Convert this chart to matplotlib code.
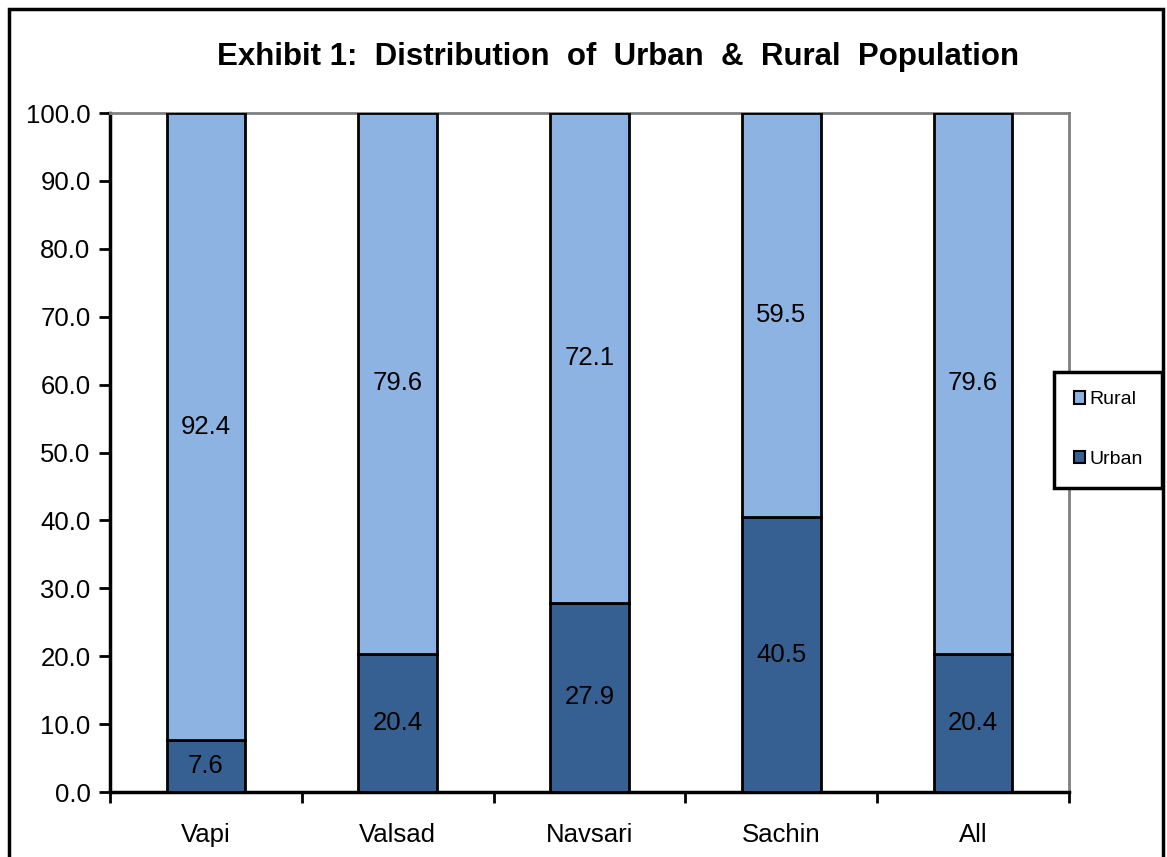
import matplotlib.pyplot as plt
from matplotlib.patches import Rectangle, Patch
import numpy as np

plt.rcParams['font.family'] = ['Liberation Sans', 'DejaVu Sans']

places = ['Vapi', 'Valsad', 'Navsari', 'Sachin', 'All']
urban = [7.6, 20.4, 27.9, 40.5, 20.4]
rural = [92.4, 79.6, 72.1, 59.5, 79.6]
yticks = [0, 10, 20, 30, 40, 50, 60, 70, 80, 90, 100]

ruralColor = '#8DB3E2'
urbanColor = '#366092'

fig = plt.figure(figsize=(11.67, 8.57), dpi=100)
ax = fig.add_axes([0.0943, 0.0758, 0.8217, 0.7923])

x = np.arange(len(places))
width = 0.41
ax.bar(x, urban, width, color=urbanColor, edgecolor='black', linewidth=2, zorder=3)
ax.bar(x, rural, width, bottom=urban, color=ruralColor, edgecolor='black', linewidth=2, zorder=3)

for i in range(len(places)):
    ax.text(x[i], urban[i] / 2, f'{urban[i]:.1f}', ha='center', va='center', fontsize=18.5, zorder=4)
    ax.text(x[i], urban[i] + rural[i] / 2, f'{rural[i]:.1f}', ha='center', va='center', fontsize=18.5, zorder=4)

ax.set_xlim(-0.5, len(places) - 0.5)
ax.set_ylim(0, 100)
ax.set_yticks(yticks)
ax.set_yticklabels([f'{v:.1f}' for v in yticks], fontsize=18.5)
ax.set_xticks(np.arange(-0.5, len(places), 1.0))
ax.set_xticklabels([])
ax.set_xticks(x, minor=True)
ax.set_xticklabels(places, minor=True, fontsize=18.5)
ax.tick_params(axis='x', which='minor', length=0, pad=22)
ax.tick_params(axis='x', which='major', direction='out', length=8, width=2)
ax.tick_params(axis='y', direction='out', length=8, width=2, pad=6)

for side in ['top', 'right']:
    ax.spines[side].set_color('#808080')
    ax.spines[side].set_linewidth(2)
for side in ['left', 'bottom']:
    ax.spines[side].set_color('black')
    ax.spines[side].set_linewidth(2.5)

handles = [Patch(facecolor=ruralColor, edgecolor='black', linewidth=1.5),
           Patch(facecolor=urbanColor, edgecolor='black', linewidth=1.5)]
leg = fig.legend(handles, ['Rural', 'Urban'], loc='center',
                 bbox_to_anchor=(0.9495, 0.4986), fontsize=14,
                 handlelength=0.6, handleheight=0.6, handletextpad=0.2,
                 labelspacing=2.2, borderpad=1.0, borderaxespad=0,
                 fancybox=False, framealpha=1, edgecolor='black')
leg.get_frame().set_linewidth(2.5)

fig.text(0.53, 0.9335, 'Exhibit 1:  Distribution  of  Urban  &  Rural  Population',
         ha='center', va='center', fontsize=22.5, fontweight='bold')

fig.patches.append(Rectangle((9 / 1167, -0.05), 1154 / 1167, 1.05 - 9 / 857,
                             transform=fig.transFigure, fill=False,
                             edgecolor='black', linewidth=2.5))

fig.savefig('out.png', dpi=100)
